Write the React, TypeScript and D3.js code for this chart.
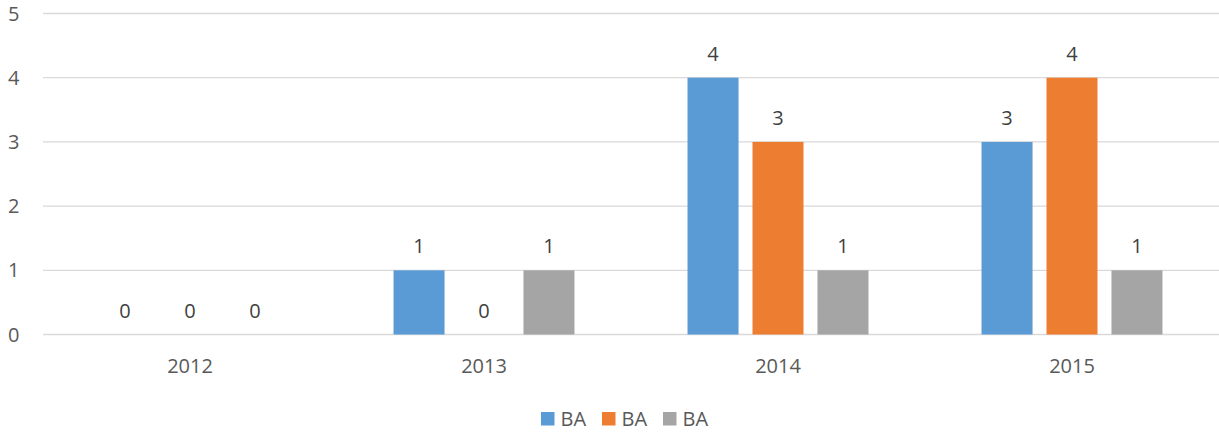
import { useEffect, useRef } from "react"
import * as d3 from "d3"

const categories = ["2012", "2013", "2014", "2015"]
const seriesNames = ["BA", "BA", "BA"]
const series1 = [0, 1, 4, 3]
const series2 = [0, 0, 3, 4]
const series3 = [0, 1, 1, 1]
const yTicks = [0, 1, 2, 3, 4, 5]

const colors = ["#5B9BD5", "#ED7D31", "#A5A5A5"]
const W = 1219
const H = 432
const FONT = "'Open Sans', 'Liberation Sans', Arial, sans-serif"
const FS = 20

export default function App() {
  const ref = useRef<SVGSVGElement>(null)

  useEffect(() => {
    if (!ref.current) return
    const svg = d3.select(ref.current)
    svg.selectAll("*").remove()

    const left = 43, right = 1219, top = 13.5, bottom = 334.5
    const values = [series1, series2, series3]

    const x0 = d3.scaleBand<string>().domain(categories).range([left, right])
    const x1 = d3.scaleBand<number>()
      .domain([0, 1, 2])
      .range([0, x0.bandwidth()])
      .paddingInner(0.215)
      .paddingOuter(0.87)
    const y = d3.scaleLinear().domain([0, 5]).range([bottom, top])

    // gridlines
    svg.append("g")
      .selectAll("line")
      .data(yTicks)
      .join("line")
      .attr("x1", left)
      .attr("x2", right)
      .attr("y1", d => y(d))
      .attr("y2", d => y(d))
      .attr("stroke", "#D9D9D9")
      .attr("stroke-width", 1.3)

    // y labels
    svg.append("g")
      .selectAll("text")
      .data(yTicks)
      .join("text")
      .attr("x", 19.5)
      .attr("y", d => y(d) + 7)
      .attr("text-anchor", "end")
      .attr("font-family", FONT)
      .attr("font-size", FS)
      .attr("fill", "#595959")
      .text(d => d)

    // x labels
    svg.append("g")
      .selectAll("text")
      .data(categories)
      .join("text")
      .attr("x", d => x0(d)! + x0.bandwidth() / 2)
      .attr("y", 373)
      .attr("text-anchor", "middle")
      .attr("font-family", FONT)
      .attr("font-size", FS)
      .attr("fill", "#595959")
      .text(d => d)

    // bars
    values.forEach((vals, si) => {
      const g = svg.append("g")
      const rows = categories.map((c, i) => ({ c, v: vals[i] }))
      g.selectAll("rect")
        .data(rows.filter(r => r.v > 0))
        .join("rect")
        .attr("x", r => x0(r.c)! + x1(si)!)
        .attr("y", r => y(r.v))
        .attr("width", x1.bandwidth())
        .attr("height", r => y(0) - y(r.v))
        .attr("fill", colors[si])
      g.selectAll("text")
        .data(rows)
        .join("text")
        .attr("x", r => x0(r.c)! + x1(si)! + x1.bandwidth() / 2)
        .attr("y", r => y(r.v) - 17)
        .attr("text-anchor", "middle")
        .attr("font-family", FONT)
        .attr("font-size", FS)
        .attr("fill", "#404040")
        .text(r => r.v)
    })

    // legend
    const lg = svg.append("g")
    seriesNames.forEach((name, i) => {
      const lx = 541 + i * 61
      lg.append("rect")
        .attr("x", lx)
        .attr("y", 412)
        .attr("width", 13.5)
        .attr("height", 13.5)
        .attr("fill", colors[i])
      lg.append("text")
        .attr("x", lx + 19.5)
        .attr("y", 425.7)
        .attr("font-family", FONT)
        .attr("font-size", FS)
        .attr("fill", "#595959")
        .text(name)
    })
  }, [])

  return (
    <div style={{ position: "absolute", left: 0, top: 0 }}>
      <svg ref={ref} width={W} height={H} style={{ display: "block", background: "#fff" }} />
    </div>
  )
}
